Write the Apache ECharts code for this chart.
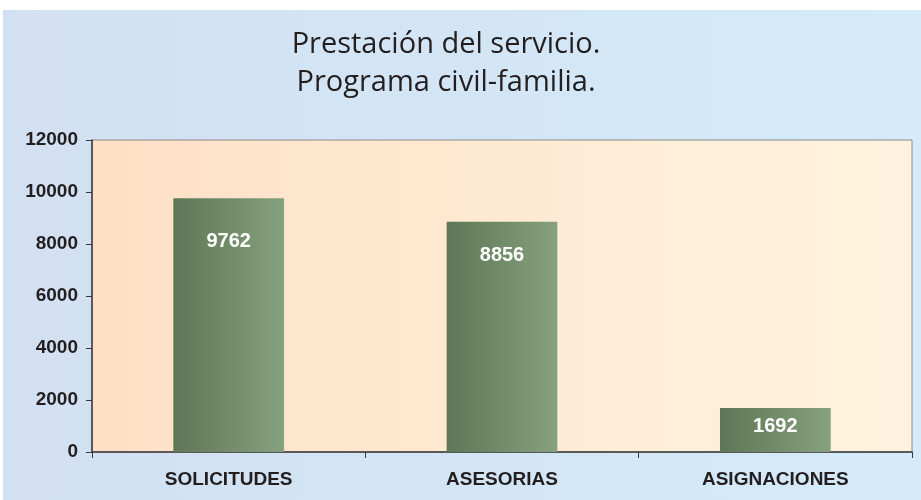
<!DOCTYPE html>
<html>
<head>
<meta charset="utf-8">
<script src="https://cdn.jsdelivr.net/npm/echarts@6/dist/echarts.min.js"></script>
<style>
  html, body { margin: 0; padding: 0; background: #fff; }
  #main { width: 921px; height: 500px; }
</style>
</head>
<body>
<div id="main"></div>
<script>
var categories = ['SOLICITUDES', 'ASESORIAS', 'ASIGNACIONES'];
var values = [9762, 8856, 1692];
var titleLines = ['Prestación del servicio.', 'Programa civil-familia.'];

// label distance from bar top, per bar (as in the original)
var labelGap = [33, 24, 8];

var myChart = echarts.init(document.getElementById('main'));

var barColor = new echarts.graphic.LinearGradient(0, 0, 1, 0, [
    {offset: 0, color: '#5e7756'},
    {offset: 1, color: '#86a17e'}
]);

var option = {
    animation: false,
    graphic: [{
        type: 'rect',
        z: -10,
        shape: {x: 3, y: 10, width: 918, height: 490},
        style: {
            fill: new echarts.graphic.LinearGradient(0, 0, 1, 0, [
                {offset: 0, color: '#d2e0f2'},
                {offset: 1, color: '#d5ebf9'}
            ])
        }
    }],
    title: {
        text: titleLines.join('\n'),
        left: 441,
        textAlign: 'center',
        top: 21,
        textStyle: {
            fontFamily: 'Open Sans',
            fontWeight: 'normal',
            fontSize: 29,
            lineHeight: 38,
            color: '#231f20'
        }
    },
    grid: {
        left: 92,
        right: 9,
        top: 140,
        bottom: 48,
        show: true,
        borderColor: '#8a8a8a',
        borderWidth: 1,
        backgroundColor: new echarts.graphic.LinearGradient(0, 0, 1, 0, [
            {offset: 0, color: '#fde0c6'},
            {offset: 1, color: '#fff3df'}
        ])
    },
    xAxis: {
        type: 'category',
        data: categories,
        axisLine: {lineStyle: {color: '#3a3a3a', width: 1.5}},
        axisTick: {show: true, length: 6, lineStyle: {color: '#3a3a3a'}},
        axisLabel: {
            margin: 18,
            fontFamily: 'Liberation Sans',
            fontWeight: 'bold',
            fontSize: 19,
            color: '#231f20'
        }
    },
    yAxis: {
        type: 'value',
        min: 0,
        max: 12000,
        interval: 2000,
        splitLine: {show: false},
        axisLine: {show: true, lineStyle: {color: '#3a3a3a', width: 1.5}},
        axisTick: {show: true, length: 6, lineStyle: {color: '#3a3a3a'}},
        axisLabel: {
            margin: 14,
            formatter: function (v) { return String(v); },
            fontFamily: 'Liberation Sans',
            fontWeight: 'bold',
            fontSize: 19,
            color: '#231f20'
        }
    },
    series: [{
        type: 'bar',
        barWidth: '40.5%',
        data: values.map(function (v, i) {
            return {value: v, label: {distance: labelGap[i]}};
        }),
        itemStyle: {color: barColor},
        label: {
            show: true,
            position: 'insideTop',
            fontFamily: 'Liberation Sans',
            fontWeight: 'bold',
            fontSize: 20,
            color: '#ffffff'
        }
    }]
};

option && myChart.setOption(option);
</script>
</body>
</html>
